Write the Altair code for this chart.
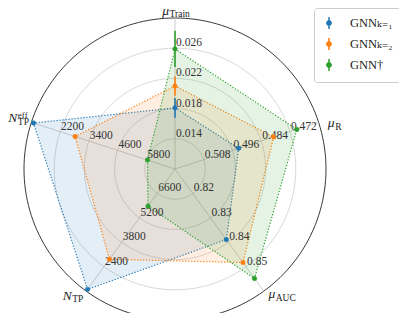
import altair as alt
import pandas as pd

# ---------------- data ----------------
axis_angle = [90, 18, -54, -126, 162]            # direction of each spoke (deg)
axis_lo = [0.010, 0.520, 0.81, 8000, 7000]       # value at the centre
axis_hi = [0.030, 0.460, 0.86, 1000, 1000]       # value at the rim
tick_text = [
    ["0.014", "0.018", "0.022", "0.026"],
    ["0.508", "0.496", "0.484", "0.472"],
    ["0.82", "0.83", "0.84", "0.85"],
    ["6600", "5200", "3800", "2400"],
    ["5800", "4600", "3400", "2200"],
]
label_main = ["μ", "μ", "μ", "N", "N"]
label_sub = ["Train", "R", "AUC", "TP", "TP"]
label_sup = ["", "", "", "", "eff"]

series_names = ["GNNₖ₌₁", "GNNₖ₌₂", "GNN†"]
values_k1 = [0.0181, 0.4934, 0.8389, 1103, 1089]
values_k2 = [0.0210, 0.4788, 0.8483, 2830, 2825]
values_dag = [0.0259, 0.4691, 0.8548, 5872, 5852]
errors_k1 = [0.0013, 0, 0, 0, 0]
errors_k2 = [0.0013, 0, 0, 0, 0]
errors_dag = [0.0024, 0, 0, 0, 0]
grid_levels = [0.2, 0.4, 0.6, 0.8]

# ---------------- style ----------------
colors = ["#1f77b4", "#ff7f0e", "#2ca02c"]
label_r = [1.021, 1.093, 1.083, 1.103, 1.089]
label_ang = [92.2, 14.7, -52.2, -128.3, 163.5]
SERIF = "Liberation Serif, DejaVu Serif, serif"
U = 151.0                 # pixels per unit radius
W, H = 391, 305
CX, CY = 167, 161         # centre in view pixels

xs = alt.Scale(domain=[-CX / U, (W - CX) / U], nice=False, zero=False)
ys = alt.Scale(domain=[-(H - CY) / U, CY / U], nice=False, zero=False)


def X(f):
    return alt.X(f, type="quantitative", scale=xs, axis=None)


def Y(f):
    return alt.Y(f, type="quantitative", scale=ys, axis=None)


# ---------------- tables ----------------
rows = []
for s, vals, errs in zip(series_names, [values_k1, values_k2, values_dag],
                         [errors_k1, errors_k2, errors_dag]):
    for k in range(6):
        a = k % 5
        rows.append(dict(series=s, k=k, value=vals[a], err=errs[a],
                         lo=axis_lo[a], hi=axis_hi[a], ang=axis_angle[a]))
poly_df = pd.DataFrame(rows)

axes_df = pd.DataFrame(dict(ang=axis_angle, main=label_main, sub=label_sub,
                            sup=label_sup, lr=label_r, la=label_ang))

tick_rows = []
for a, labs in enumerate(tick_text):
    for t in labs:
        tick_rows.append(dict(text=t, tv=float(t), lo=axis_lo[a], hi=axis_hi[a],
                              ang=axis_angle[a]))
tick_df = pd.DataFrame(tick_rows)

RAD = "datum.ang*PI/180"
to_r = "(datum.value - datum.lo)/(datum.hi - datum.lo)"

# ---------------- layers ----------------
layers = []

grid = (alt.Chart(pd.DataFrame({"lv": grid_levels}))
        .transform_calculate(deg="sequence(0, 361, 3)")
        .transform_flatten(["deg"])
        .transform_calculate(px="datum.lv*cos(datum.deg*PI/180)",
                             py="datum.lv*sin(datum.deg*PI/180)")
        .mark_line(stroke="#cfcfcf", strokeWidth=0.8)
        .encode(x=X("px"), y=Y("py"), detail="lv:N", order="deg:Q"))
layers.append(grid)

outer = (alt.Chart(pd.DataFrame({"lv": [1.0]}))
         .transform_calculate(deg="sequence(0, 361, 2)")
         .transform_flatten(["deg"])
         .transform_calculate(px="datum.lv*cos(datum.deg*PI/180)",
                              py="datum.lv*sin(datum.deg*PI/180)")
         .mark_line(stroke="#222222", strokeWidth=0.9)
         .encode(x=X("px"), y=Y("py"), order="deg:Q"))
layers.append(outer)

spokes = (alt.Chart(axes_df)
          .transform_calculate(x0="0", y0="0", x1="cos(" + RAD + ")", y1="sin(" + RAD + ")")
          .mark_rule(stroke="#c4c4c4", strokeWidth=0.8)
          .encode(x=X("x0"), y=Y("y0"), x2="x1:Q", y2="y1:Q"))
layers.append(spokes)

for s, c in zip(series_names, colors):
    poly = (alt.Chart(poly_df)
            .transform_filter(alt.datum.series == s)
            .transform_calculate(r=to_r)
            .transform_calculate(px="datum.r*cos(" + RAD + ")", py="datum.r*sin(" + RAD + ")")
            .mark_line(fill=c, fillOpacity=0.12, stroke=c, strokeWidth=1.2,
                       strokeDash=[1.2, 1.8])
            .encode(x=X("px"), y=Y("py"), order="k:Q"))
    layers.append(poly)

ticks = (alt.Chart(tick_df)
         .transform_calculate(r="(datum.tv - datum.lo)/(datum.hi - datum.lo)")
         .transform_calculate(px="datum.r*cos(" + RAD + ")", py="datum.r*sin(" + RAD + ")")
         .mark_text(align="left", baseline="alphabetic", dx=1, dy=-2, font=SERIF,
                    fontSize=11.5, color="#333333")
         .encode(x=X("px"), y=Y("py"), text="text:N"))
layers.append(ticks)

for s, c in zip(series_names, colors):
    eb = (alt.Chart(poly_df)
          .transform_filter((alt.datum.series == s) & (alt.datum.err > 0) & (alt.datum.k < 5))
          .transform_calculate(r1="(datum.value - datum.err - datum.lo)/(datum.hi - datum.lo)",
                               r2="(datum.value + datum.err - datum.lo)/(datum.hi - datum.lo)")
          .transform_calculate(ex1="datum.r1*cos(" + RAD + ")", ey1="datum.r1*sin(" + RAD + ")",
                               ex2="datum.r2*cos(" + RAD + ")", ey2="datum.r2*sin(" + RAD + ")")
          .mark_rule(stroke=c, strokeWidth=1.6)
          .encode(x=X("ex1"), y=Y("ey1"), x2="ex2:Q", y2="ey2:Q"))
    layers.append(eb)

sym = "M0,-1L0,1M-0.36,0A0.36,0.36,0,1,0,0.36,0A0.36,0.36,0,1,0,-0.36,0Z"
leg = alt.Legend(title=None, orient="none", legendX=306, legendY=0, symbolType=sym,
                 symbolSize=144, symbolStrokeWidth=1.5, labelFont=SERIF,
                 labelFontSize=12.5, labelColor="#222222", labelOffset=14, padding=8,
                 rowPadding=3, strokeColor="#cccccc", fillColor="white", cornerRadius=3)
cscale = alt.Scale(domain=series_names, range=colors)

pts = (alt.Chart(poly_df)
       .transform_filter("datum.k < 5")
       .transform_calculate(r=to_r)
       .transform_calculate(px="datum.r*cos(" + RAD + ")", py="datum.r*sin(" + RAD + ")")
       .mark_point(filled=True, size=20, opacity=1, strokeWidth=0.6)
       .encode(x=X("px"), y=Y("py"),
               fill=alt.Fill("series:N", scale=cscale, legend=leg),
               stroke=alt.Stroke("series:N", scale=cscale, legend=leg)))
layers.append(pts)

lab_base = (alt.Chart(axes_df)
            .transform_calculate(px="datum.lr*cos(datum.la*PI/180)",
                                 py="datum.lr*sin(datum.la*PI/180)"))
lab_main = lab_base.mark_text(align="right", baseline="alphabetic", font=SERIF, fontSize=13.5,
                              fontStyle="italic", color="#222222").encode(
    x=X("px"), y=Y("py"), text="main:N")
lab_sub = lab_base.mark_text(align="left", baseline="alphabetic", dx=0.5, dy=2.5, font=SERIF,
                             fontSize=9.5, color="#222222").encode(
    x=X("px"), y=Y("py"), text="sub:N")
lab_sup = lab_base.mark_text(align="left", baseline="alphabetic", dx=0.5, dy=-4.5, font=SERIF,
                             fontSize=9, color="#222222").encode(
    x=X("px"), y=Y("py"), text="sup:N")
layers += [lab_main, lab_sub, lab_sup]

chart = (alt.layer(*layers)
         .properties(width=W, height=H, padding=0,
                     autosize=alt.AutoSizeParams(type="none"), background="white")
         .configure_view(stroke=None))

chart.save("out.html", embed_options={"renderer": "svg", "actions": False})
